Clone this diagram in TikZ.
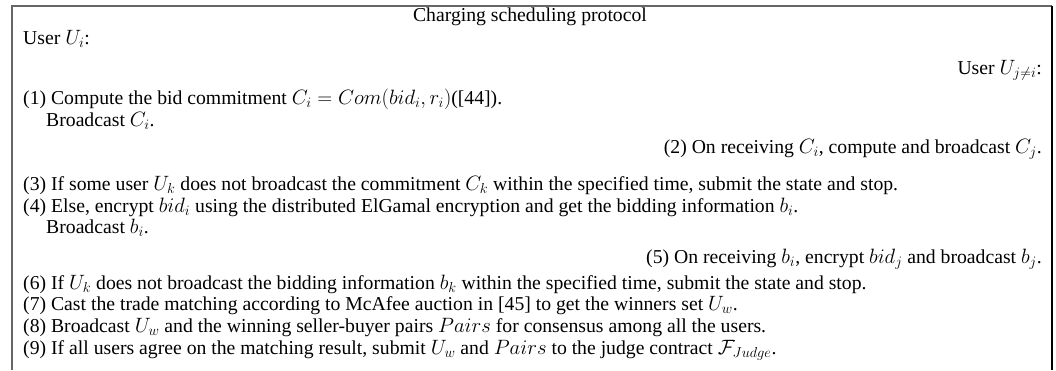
\documentclass[tikz,border=0pt]{standalone}
\usepackage{fontspec}
\setmainfont{Liberation Serif}
\begin{document}
\begin{tikzpicture}[x=1pt,y=-1pt,
  lt/.style={anchor=base west,inner sep=0pt,font=\fontsize{19.7}{23}\selectfont},
  rt/.style={anchor=base east,inner sep=0pt,font=\fontsize{19.7}{23}\selectfont},
  ct/.style={anchor=base,inner sep=0pt,font=\fontsize{19.7}{23}\selectfont},
  frame/.style={line width=1.5pt,draw=black!60}]
\useasboundingbox (0,0) rectangle (1056,370);
% frame of the table (open at the bottom)
\draw[frame] (12,370) -- (12,6) -- (1052,6);
\draw[line width=1.6pt] (1052,6) -- (1052,370);
% title
\node[ct] (title) at (530,21) {Charging scheduling protocol};
% party headers
\node[lt] (ui) at (23,44) {User $U_i$:};
\node[rt] (uj) at (1042,74) {User $U_{j\neq i}$:};
% protocol steps
\node[lt] (s1) at (23,104) {(1) Compute the bid commitment $C_i=Com(bid_i,r_i)$([44]).};
\node[lt] (s1b) at (46,126) {Broadcast $C_i$.};
\node[rt] (s2) at (1042,153) {(2) On receiving $C_i$, compute and broadcast $C_j$.};
\node[lt] (s3) at (23,190) {(3) If some user $U_k$ does not broadcast the commitment $C_k$ within the specified time, submit the state and stop.};
\node[lt] (s4) at (23,212) {(4) Else, encrypt $bid_i$ using the distributed ElGamal encryption and get the bidding information $b_i$.};
\node[lt] (s4b) at (46,233) {Broadcast $b_i$.};
\node[rt] (s5) at (1042,263) {(5) On receiving $b_i$, encrypt $bid_j$ and broadcast $b_j$.};
\node[lt] (s6) at (23,289) {(6) If $U_k$ does not broadcast the bidding information $b_k$ within the specified time, submit the state and stop.};
\node[lt] (s7) at (23,310) {(7) Cast the trade matching according to McAfee auction in [45] to get the winners set $U_w$.};
\node[lt] (s8) at (23,332) {(8) Broadcast $U_w$ and the winning seller-buyer pairs $Pairs$ for consensus among all the users.};
\node[lt] (s9) at (23,354) {(9) If all users agree on the matching result, submit $U_w$ and $Pairs$ to the judge contract $\mathcal{F}_{Judge}$.};
\end{tikzpicture}
\end{document}
